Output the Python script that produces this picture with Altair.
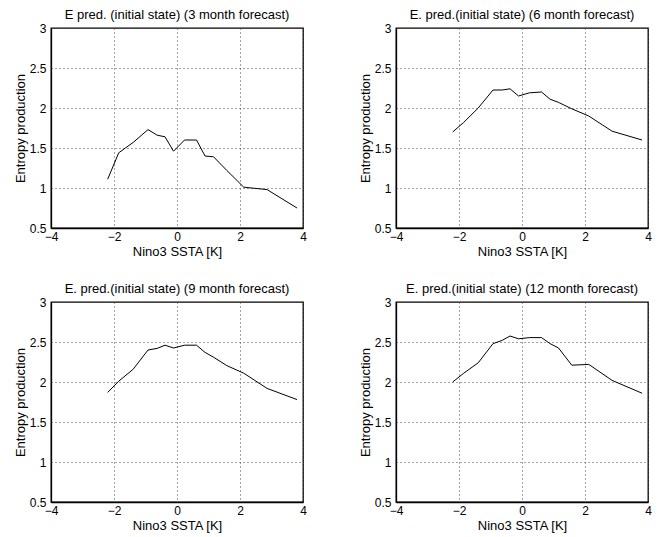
import altair as alt
import pandas as pd

# Nino3 SSTA values (shared by all four panels)
ssta = [-2.2, -1.85, -1.39, -0.92, -0.63, -0.38, -0.11, 0.24, 0.62, 0.89, 1.16, 1.58, 2.12, 2.86, 3.81]

ep_3 = [1.11, 1.44, 1.57, 1.73, 1.66, 1.64, 1.46, 1.60, 1.60, 1.40, 1.39, 1.22, 1.01, 0.98, 0.75]
ep_6 = [1.70, 1.82, 2.00, 2.225, 2.225, 2.24, 2.15, 2.19, 2.20, 2.11, 2.07, 1.99, 1.90, 1.71, 1.60]
ep_9 = [1.87, 2.01, 2.16, 2.40, 2.42, 2.46, 2.425, 2.46, 2.46, 2.37, 2.31, 2.205, 2.11, 1.92, 1.78]
ep_12 = [2.00, 2.11, 2.24, 2.48, 2.52, 2.575, 2.54, 2.555, 2.555, 2.48, 2.425, 2.21, 2.22, 2.02, 1.86]

titles = [
    "E pred. (initial state) (3 month forecast)",
    "E. pred.(initial state) (6 month forecast)",
    "E. pred.(initial state) (9 month forecast)",
    "E. pred.(initial state) (12 month forecast)",
]
series = [ep_3, ep_6, ep_9, ep_12]

x_ticks = [-4, -2, 0, 2, 4]
y_ticks = [0.5, 1, 1.5, 2, 2.5, 3]

FONT = "Liberation Sans"


def panel(title, vals):
    df = pd.DataFrame({"x": ssta, "y": vals})
    return (
        alt.Chart(df)
        .mark_line(color="black", strokeWidth=1)
        .encode(
            x=alt.X(
                "x:Q",
                scale=alt.Scale(domain=[-4, 4], nice=False, zero=False),
                axis=alt.Axis(
                    title="Nino3 SSTA [K]",
                    values=x_ticks,
                    format="d",
                    labelFlush=False,
                    labelOverlap=False,
                    labelPadding=3,
                    titlePadding=3,
                ),
            ),
            y=alt.Y(
                "y:Q",
                scale=alt.Scale(domain=[0.5, 3], nice=False, zero=False),
                axis=alt.Axis(
                    title="Entropy production",
                    values=y_ticks,
                    format="~g",
                    labelFlush=False,
                    labelOverlap=False,
                    labelPadding=5,
                    titlePadding=2,
                ),
            ),
        )
        .properties(
            width=252,
            height=200,
            title=alt.TitleParams(title, fontSize=13, fontWeight="normal", font=FONT, offset=0, anchor="middle", color="black"),
        )
    )


p = [panel(t, s) for t, s in zip(titles, series)]

chart = (
    alt.concat(*p, columns=2, spacing={"row": 74, "column": 93}, bounds="flush")
    .properties(padding={"left": 5, "top": 0, "right": 5, "bottom": 0})
    .configure_view(stroke="black", strokeWidth=1.3)
    .configure_axis(
        labelFont=FONT,
        titleFont=FONT,
        labelFontSize=12,
        titleFontSize=13,
        titleFontWeight="normal",
        labelColor="black",
        titleColor="black",
        domainColor="black",
        domainWidth=1.3,
        ticks=False,
        tickSize=0,
        gridColor="#444444",
        gridDash=[1, 3],
        gridWidth=1,
    )
)

chart.save("out.html", embed_options={"renderer": "svg", "actions": False})
